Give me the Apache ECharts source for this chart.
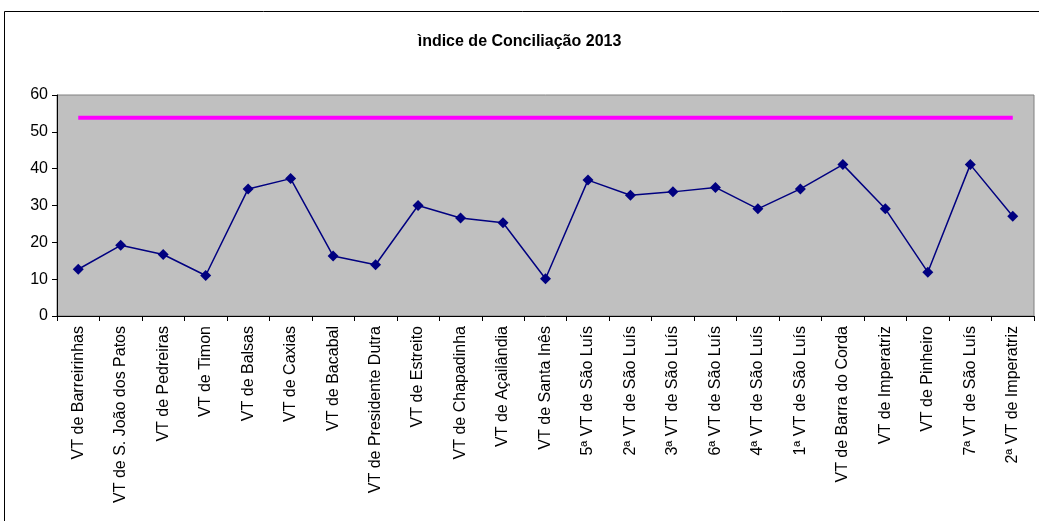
<!DOCTYPE html>
<html><head><meta charset="utf-8">
<script src="https://cdn.jsdelivr.net/npm/echarts@6/dist/echarts.min.js"></script>
<style>html,body{margin:0;padding:0;background:#fff}#c{width:1039px;height:521px}</style>
</head><body><div id="c"></div>
<script>
const categories = ["VT de Barreirinhas","VT de S. João dos Patos","VT de Pedreiras","VT de Timon","VT de Balsas","VT de Caxias","VT de Bacabal","VT de Presidente Dutra","VT de Estreito","VT de Chapadinha","VT de Açailândia","VT de Santa Inês","5ª VT de São Luís","2ª VT de São Luís","3ª VT de São Luís","6ª VT de São Luís","4ª VT de São Luís","1ª VT de São Luís","VT de Barra do Corda","VT de Imperatriz","VT de Pinheiro","7ª VT de São Luís","2ª VT de Imperatriz"];
const indice = [12.7,19.2,16.7,11.0,34.5,37.3,16.3,13.9,30.0,26.6,25.3,10.1,36.9,32.8,33.7,34.9,29.1,34.5,41.1,29.1,11.9,41.1,27.1];
const meta = [53.8,53.8,53.8,53.8,53.8,53.8,53.8,53.8,53.8,53.8,53.8,53.8,53.8,53.8,53.8,53.8,53.8,53.8,53.8,53.8,53.8,53.8,53.8];
const yTicks = [0,10,20,30,40,50,60];

const chart = echarts.init(document.getElementById('c'), null, {renderer:'canvas'});
const font = 'Liberation Sans, Arial, sans-serif';
chart.setOption({
  animation:false,
  backgroundColor:'#ffffff',
  title:{text:'ìndice de Conciliação 2013', left:'center', top:29,
    textStyle:{fontFamily:font, fontSize:16, fontWeight:'bold', color:'#000'}},
  graphic:[{type:'rect', shape:{x:4.5,y:11.5,width:1050,height:530}, style:{fill:null, stroke:'#000', lineWidth:1}, z:-1}],
  grid:{left:57, top:95, right:5, bottom:205, show:true, backgroundColor:'#C0C0C0', borderColor:'#808080', borderWidth:1},
  xAxis:{type:'category', data:categories, boundaryGap:true,
    axisLine:{lineStyle:{color:'#000', width:1}},
    axisTick:{show:true, length:5, inside:false, lineStyle:{color:'#000'}},
    axisLabel:{rotate:90, interval:0, fontFamily:font, fontSize:16, color:'#000', margin:10},
    splitLine:{show:false}},
  yAxis:{type:'value', min:yTicks[0], max:yTicks[yTicks.length-1], interval:10,
    axisLine:{show:true, lineStyle:{color:'#000', width:1}},
    axisTick:{show:true, length:5, lineStyle:{color:'#000'}},
    axisLabel:{fontFamily:font, fontSize:16, color:'#000', margin:9},
    splitLine:{show:false}},
  series:[
    {type:'line', data:meta, symbol:'none', lineStyle:{color:'#FF00FF', width:4}, itemStyle:{color:'#FF00FF'}, z:2},
    {type:'line', data:indice, symbol:'diamond', symbolSize:11, lineStyle:{color:'#000080', width:1.5}, itemStyle:{color:'#000080'}, z:3}
  ]
});
</script></body></html>
